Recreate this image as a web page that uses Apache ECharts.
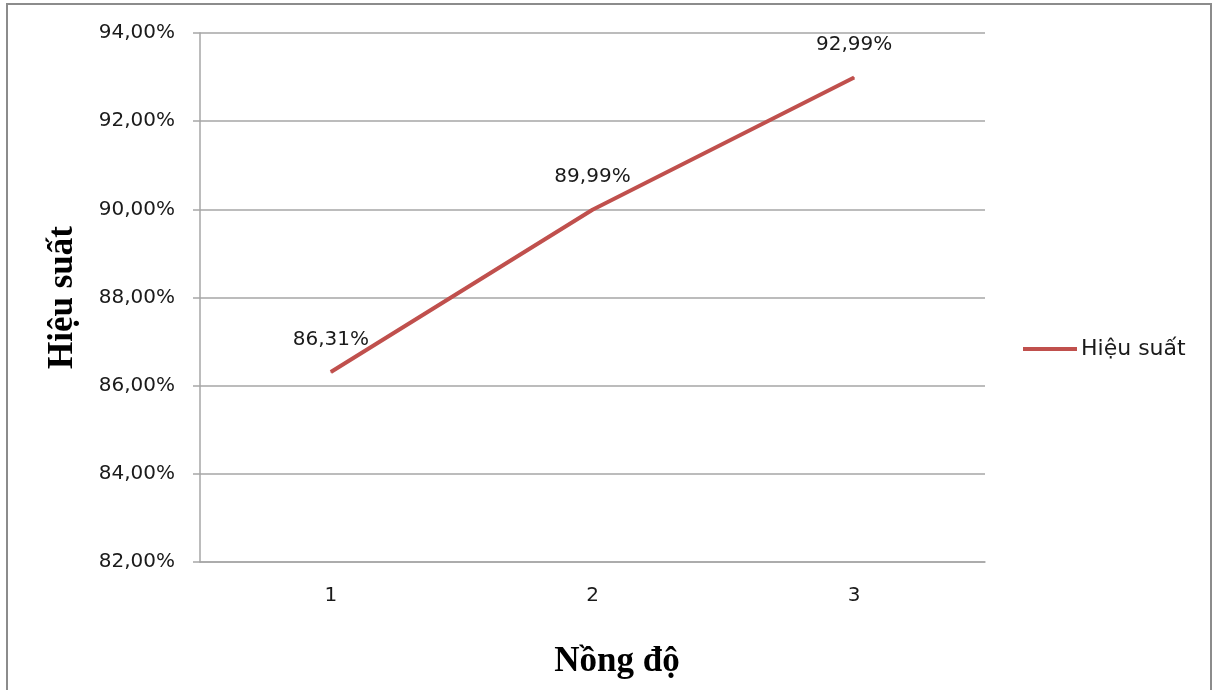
<!DOCTYPE html>
<html>
<head>
<meta charset="utf-8">
<script src="https://cdn.jsdelivr.net/npm/echarts@6/dist/echarts.min.js"></script>
<style>
  html, body { margin: 0; padding: 0; background: #ffffff; }
  #chart { width: 1214px; height: 690px; }
</style>
</head>
<body>
<div id="chart"></div>
<script>
// Concentration levels on the category axis
const categories = ['1', '2', '3'];
// Efficiency (%) at each level
const efficiency = [86.31, 89.99, 92.99];
// Value axis range and step (%)
const yMin = 82;
const yMax = 94;
const yStep = 2;

const seriesName = 'Hiệu suất';
const xTitle = 'Nồng độ';
const yTitle = 'Hiệu suất';

const fmt = v => v.toFixed(2).replace('.', ',') + '%';
const LINE_COLOR = '#c0504d';
const GRID_COLOR = '#a6a6a6';
const TEXT_COLOR = '#1a1a1a';
const SANS = 'DejaVu Sans';
const SERIF = 'Liberation Serif';

const chart = echarts.init(document.getElementById('chart'), null, { renderer: 'canvas' });

chart.setOption({
  animation: false,
  backgroundColor: '#ffffff',
  grid: { left: 200, right: 229, top: 33, bottom: 128, containLabel: false },
  legend: {
    data: [seriesName],
    orient: 'vertical',
    left: 1018,
    top: 333,
    itemWidth: 54,
    itemHeight: 14,
    itemGap: 0,
    textStyle: { fontFamily: SANS, fontSize: 22, color: TEXT_COLOR, padding: [0, 0, 0, -1] },
    icon: 'path://M0,0 L54,0 L54,4 L0,4 Z'
  },
  xAxis: {
    type: 'category',
    data: categories,
    boundaryGap: true,
    axisLine: { show: true, lineStyle: { color: GRID_COLOR, width: 1.5 } },
    axisTick: { show: false },
    axisLabel: { fontFamily: SANS, fontSize: 20, color: TEXT_COLOR, margin: 24 },
    splitLine: { show: false }
  },
  yAxis: {
    type: 'value',
    min: yMin,
    max: yMax,
    interval: yStep,
    axisLine: { show: true, lineStyle: { color: GRID_COLOR, width: 1.5 } },
    axisTick: { show: true, length: 7, inside: false, lineStyle: { color: GRID_COLOR, width: 1.5 } },
    axisLabel: { fontFamily: SANS, fontSize: 20, color: TEXT_COLOR, margin: 25, formatter: fmt },
    splitLine: { show: true, lineStyle: { color: GRID_COLOR, width: 1.5 } },
    name: yTitle,
    nameLocation: 'middle',
    nameRotate: 90,
    nameGap: 120,
    nameTextStyle: { fontFamily: SERIF, fontWeight: 'bold', fontSize: 35, color: '#000000' }
  },
  series: [{
    name: seriesName,
    type: 'line',
    data: efficiency,
    showSymbol: true,
    symbol: 'circle',
    symbolSize: 1,
    lineStyle: { color: LINE_COLOR, width: 4 },
    itemStyle: { color: LINE_COLOR },
    label: {
      show: true,
      position: 'top',
      distance: 22,
      fontFamily: SANS,
      fontSize: 20,
      color: TEXT_COLOR,
      formatter: p => fmt(p.value)
    }
  }],
  graphic: [
    {
      type: 'rect',
      shape: { x: 7, y: 4, width: 1204, height: 700 },
      style: { fill: 'none', stroke: '#8c8c8c', lineWidth: 2 },
      silent: true
    },
    {
      type: 'text',
      x: 617,
      y: 662,
      style: {
        text: xTitle,
        fontFamily: SERIF,
        fontWeight: 'bold',
        fontSize: 35,
        fill: '#000000',
        textAlign: 'center',
        textVerticalAlign: 'middle'
      }
    }
  ]
});
</script>
</body>
</html>
